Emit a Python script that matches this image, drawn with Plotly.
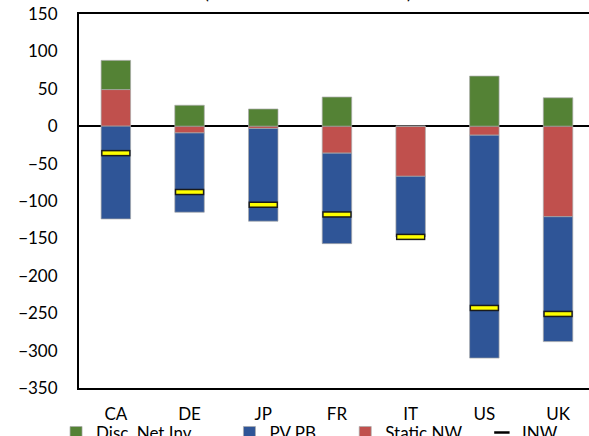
import plotly.graph_objects as go

# values
countries = ["CA", "DE", "JP", "FR", "IT", "US", "UK"]
static_nw = [49, -9, -3, -36, -67, -12, -121]
pv_pb = [-124, -106, -124, -121, -81, -298, -167]
disc_net_inv = [39, 28, 23, 39, 0, 67, 38]
inw = [-36, -88, -105, -118, -148, -243, -251]
y_ticks = [150, 100, 50, 0, -50, -100, -150, -200, -250, -300, -350]

FONT = "Lato"
bar_edge = dict(color="rgba(170,170,170,0.7)", width=1)

fig = go.Figure()

# stacking order: red sits next to zero, then blue / green
fig.add_trace(go.Bar(x=countries, y=static_nw, name="Static NW",
                     marker=dict(color="#C0504D", line=bar_edge),
                     width=0.4, legend="legend3"))
fig.add_trace(go.Bar(x=countries, y=pv_pb, name="PV PB",
                     marker=dict(color="#2F5597", line=bar_edge),
                     width=0.4, legend="legend2"))
fig.add_trace(go.Bar(x=countries, y=disc_net_inv, name="Disc. Net Inv.",
                     marker=dict(color="#548235", line=bar_edge),
                     width=0.4, legend="legend"))

# INW markers: black dash with a yellow core
fig.add_trace(go.Scatter(x=countries, y=inw, mode="markers", showlegend=False,
                         marker=dict(symbol="line-ew", size=21,
                                     line=dict(color="#1a1a1a", width=6.5))))
fig.add_trace(go.Scatter(x=countries, y=inw, mode="markers", showlegend=False,
                         marker=dict(symbol="line-ew", size=19,
                                     line=dict(color="#FFFF00", width=3.5))))
# legend entry only (thin dash as in the original key)
fig.add_trace(go.Scatter(x=[None], y=[None], name="INW", mode="markers",
                         marker=dict(symbol="line-ew", size=11,
                                     line=dict(color="black", width=2.5)),
                         legend="legend4"))

leg = dict(orientation="h", yref="container", yanchor="middle", y=0.007,
           bgcolor="rgba(0,0,0,0)", font=dict(family=FONT, size=17, color="black"))

fig.update_layout(
    width=589, height=436,
    barmode="relative",
    plot_bgcolor="white", paper_bgcolor="white",
    margin=dict(l=79, r=0, t=14, b=48, autoexpand=False),
    font=dict(family=FONT, size=17, color="black"),
    legend=dict(leg, x=-0.045),
    legend2=dict(leg, x=0.295),
    legend3=dict(leg, x=0.522),
    legend4=dict(leg, x=0.79),
    annotations=[dict(text="(Percent of Potential GDP)", xref="paper", yref="paper",
                      x=0.449, y=1.024, xanchor="center", yanchor="bottom",
                      showarrow=False, font=dict(family=FONT, size=18))],
)

fig.update_xaxes(range=[-0.5, 6.42], showline=True, linecolor="black", linewidth=2,
                 mirror=True, ticks="", ticklabelstandoff=10, showgrid=False)
fig.update_yaxes(range=[-350, 150], tickvals=y_ticks, showline=True, linecolor="black",
                 linewidth=2, showgrid=False, zeroline=True, zerolinecolor="black",
                 zerolinewidth=2, ticks="", ticklabelstandoff=16)

# page has a default 8px body margin; drop it so the figure sits at the corner
fig.write_html("out.html", config={"displayModeBar": False},
               post_script="document.body.style.margin='0';")
